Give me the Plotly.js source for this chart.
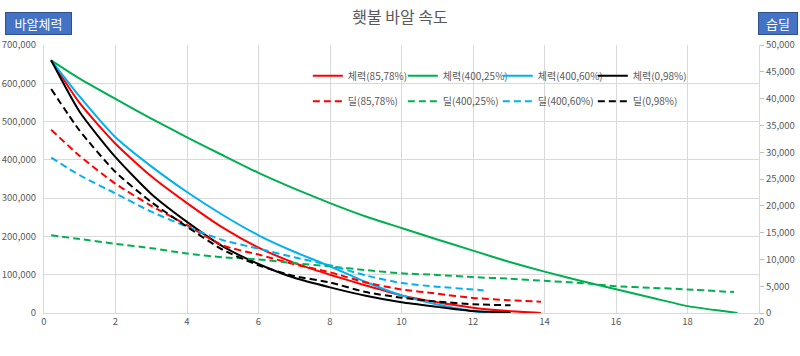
<!DOCTYPE html>
<html>
<head>
<meta charset="utf-8">
<script src="https://cdn.plot.ly/plotly-3.0.1.min.js"></script>
<style>html,body{margin:0;padding:0;background:#fff;}#chart{width:800px;height:356px;}</style>
</head>
<body>
<div id="chart"></div>
<script>
// ---- Data ----
// 체력 (left axis, 바알체력)
const xRed = [0.2, 1, 2, 3, 4, 5, 6, 7, 8, 9, 10, 11, 12, 13, 13.9];
const hpRed = [660000, 548000, 442000, 357000, 287000, 223000, 171000, 131000, 100000, 72000, 46000, 28000, 14000, 5000, 0];

const xGreen = [0.2, 1, 2, 3, 4, 5, 6, 7, 8, 9, 10, 11, 12, 13, 14, 15, 16, 17, 18, 19, 19.4];
const hpGreen = [660000, 612000, 559000, 508000, 459000, 412000, 366000, 325000, 287000, 252000, 222000, 192000, 163000, 134000, 108000, 84000, 62000, 40000, 18000, 5000, 0];

const xBlue = [0.2, 1, 2, 3, 4, 5, 6, 7, 8, 9, 10, 11, 12, 12.4];
const hpBlue = [660000, 565000, 459000, 383000, 316000, 256000, 203000, 160000, 122000, 81000, 46000, 22000, 5000, 0];

const xBlack = [0.2, 1, 2, 3, 4, 5, 6, 7, 8, 9, 10, 11, 12, 13, 13.05];
const hpBlack = [660000, 525000, 407000, 311000, 238000, 174000, 128000, 92000, 67000, 45000, 28000, 16000, 5000, 1000, 0];

// 딜 (right axis, 습딜)
const xRedD = [0.2, 1, 2, 3, 4, 5, 6, 7, 8, 9, 10, 11, 12, 13, 13.9];
const dmgRed = [34200, 29300, 24100, 20000, 16400, 12600, 10900, 9100, 7600, 5700, 4400, 3600, 2800, 2400, 2100];

const xGreenD = [0.2, 1, 2, 3, 4, 5, 6, 7, 8, 9, 10, 11, 12, 13, 14, 15, 16, 17, 18, 19.3];
const dmgGreen = [14500, 13800, 12900, 12100, 11100, 10400, 10000, 9300, 8700, 8000, 7400, 7100, 6700, 6400, 6000, 5600, 5000, 4700, 4400, 3900];

const xBlueD = [0.2, 1, 2, 3, 4, 5, 6, 7, 8, 9, 10, 11, 12, 12.3];
const dmgBlue = [29000, 25700, 22300, 18900, 16100, 13600, 12000, 10400, 8900, 7000, 5600, 4900, 4400, 4200];

const xBlackD = [0.2, 1, 2, 3, 4, 5, 6, 7, 8, 9, 10, 11, 12, 13.05];
const dmgBlack = [41800, 34000, 26300, 20700, 16100, 11800, 8900, 6900, 5700, 3900, 2860, 2140, 1640, 1430];

const hpNames = ['체력(85,78%)', '체력(400,25%)', '체력(400,60%)', '체력(0,98%)'];
const dmgNames = ['딜(85,78%)', '딜(400,25%)', '딜(400,60%)', '딜(0,98%)'];
const titleText = '횃불 바알 속도';
const leftLabel = '바알체력';
const rightLabel = '습딜';

// ---- Styles ----
const colors = ['#FF0000', '#00B050', '#00B0F0', '#000000'];
const font = '"Noto Sans CJK KR", "Noto Sans", sans-serif';
const grey = '#595959';
const gridC = '#D9D9D9';

const hpX = [xRed, xGreen, xBlue, xBlack];
const hpY = [hpRed, hpGreen, hpBlue, hpBlack];
const dX = [xRedD, xGreenD, xBlueD, xBlackD];
const dY = [dmgRed, dmgGreen, dmgBlue, dmgBlack];

const traces = [];
for (let i = 0; i < 4; i++) {
  traces.push({
    x: hpX[i], y: hpY[i], name: hpNames[i], type: 'scatter', mode: 'lines',
    line: {color: colors[i], width: 2, shape: 'spline', smoothing: 0.6}, yaxis: 'y', legend: 'legend'
  });
}
for (let i = 0; i < 4; i++) {
  traces.push({
    x: dX[i], y: dY[i], name: dmgNames[i], type: 'scatter', mode: 'lines',
    line: {color: colors[i], width: 2, dash: '7px,4px', shape: 'spline', smoothing: 0.6}, yaxis: 'y2', legend: 'legend2'
  });
}

const legendCommon = {
  orientation: 'h', xref: 'paper', yref: 'paper', x: 0.369, xanchor: 'left',
  yanchor: 'middle', bgcolor: 'rgba(0,0,0,0)', borderwidth: 0,
  font: {family: font, size: 10, color: grey},
  entrywidth: 50, entrywidthmode: 'pixels', itemwidth: 30, traceorder: 'normal'
};

const layout = {
  width: 800, height: 356,
  margin: {l: 44, r: 41, t: 45, b: 43},
  paper_bgcolor: '#FFFFFF', plot_bgcolor: '#FFFFFF',
  font: {family: font, color: grey},
  title: {text: titleText, x: 0.5, xanchor: 'center', y: 0.95, yanchor: 'middle',
          font: {family: font, size: 16, color: grey}},
  xaxis: {
    range: [0, 20], dtick: 2, tick0: 0, showgrid: true, gridcolor: gridC, gridwidth: 1,
    showline: true, linecolor: gridC, linewidth: 1, zeroline: false,
    tickfont: {family: font, size: 9.5, color: grey}, ticks: '', fixedrange: true
  },
  yaxis: {
    range: [0, 700000], dtick: 100000, tick0: 0, tickformat: ',d',
    showgrid: true, gridcolor: gridC, gridwidth: 1, showline: true, linecolor: gridC,
    zeroline: false, ticks: '', ticklabelstandoff: 5,
    tickfont: {family: font, size: 9.5, color: grey}
  },
  yaxis2: {
    range: [0, 50000], dtick: 5000, tick0: 0, tickformat: ',d',
    overlaying: 'y', side: 'right', showgrid: false, showline: true, linecolor: gridC,
    zeroline: false, ticks: 'outside', ticklen: 4, tickcolor: '#BFBFBF',
    tickfont: {family: font, size: 9.5, color: grey}
  },
  legend: Object.assign({}, legendCommon, {y: 0.885}),
  legend2: Object.assign({}, legendCommon, {y: 0.79}),
  showlegend: true,
  annotations: [
    {text: leftLabel, xref: 'paper', yref: 'paper', x: -0.054, y: 1.037, xanchor: 'left', yanchor: 'bottom',
     showarrow: false, bgcolor: '#4472C4', bordercolor: '#2F528F', borderwidth: 1, borderpad: 2,
     width: 61, height: 17, font: {family: font, size: 13, color: '#FFFFFF'}},
    {text: rightLabel, xref: 'paper', yref: 'paper', x: 0.998, y: 1.037, xanchor: 'left', yanchor: 'bottom',
     showarrow: false, bgcolor: '#4472C4', bordercolor: '#2F528F', borderwidth: 1, borderpad: 2,
     width: 34, height: 17, font: {family: font, size: 13, color: '#FFFFFF'}}
  ]
};

Plotly.newPlot('chart', traces, layout, {displayModeBar: false, staticPlot: true});
</script>
</body>
</html>
